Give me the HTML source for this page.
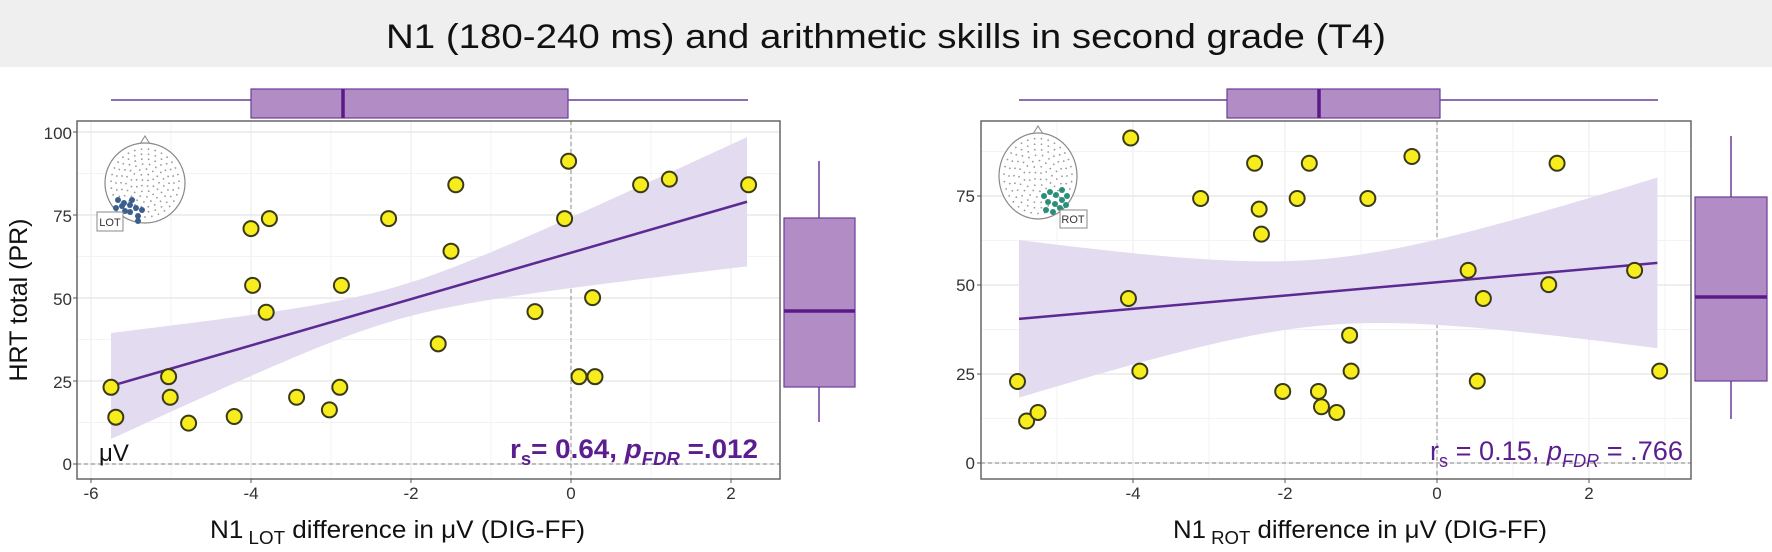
<!DOCTYPE html>
<html><head><meta charset="utf-8">
<style>
html,body{margin:0;padding:0;background:#fff;}
svg{display:block;}
text{font-family:"Liberation Sans",sans-serif;}
</style></head>
<body>
<svg id="s" width="1772" height="552" viewBox="0 0 1772 552" xmlns="http://www.w3.org/2000/svg">
<rect x="0" y="0" width="1772" height="67" fill="#efefef"/>
<text x="886" y="48" font-size="34" text-anchor="middle" textLength="1000" lengthAdjust="spacingAndGlyphs" fill="#111">N1 (180-240 ms) and arithmetic skills in second grade (T4)</text>
<g id="g"></g>
<g font-size="17" fill="#333" text-anchor="end">
<text x="72" y="139">100</text><text x="72" y="222">75</text><text x="72" y="305">50</text><text x="72" y="388">25</text><text x="72" y="470">0</text>
</g>
<g font-size="17" fill="#333" text-anchor="middle">
<text x="91" y="499">-6</text><text x="251" y="499">-4</text><text x="411" y="499">-2</text><text x="571" y="499">0</text><text x="731" y="499">2</text>
</g>
<g font-size="17" fill="#333" text-anchor="end">
<text x="975" y="202">75</text><text x="975" y="291">50</text><text x="975" y="380">25</text><text x="975" y="469">0</text>
</g>
<g font-size="17" fill="#333" text-anchor="middle">
<text x="1133" y="499">-4</text><text x="1285" y="499">-2</text><text x="1437" y="499">0</text><text x="1589" y="499">2</text>
</g>
<text transform="translate(27,300) rotate(-90)" font-size="25" text-anchor="middle" fill="#111">HRT total (PR)</text>
<text x="210" y="538" font-size="25" fill="#111" textLength="375" lengthAdjust="spacingAndGlyphs">N1<tspan font-size="18" dy="6"> LOT</tspan><tspan dy="-6"> difference in μV (DIG-FF)</tspan></text>
<text x="1173" y="538" font-size="25" fill="#111" textLength="374" lengthAdjust="spacingAndGlyphs">N1<tspan font-size="18" dy="6"> ROT</tspan><tspan dy="-6"> difference in μV (DIG-FF)</tspan></text>
<text x="99" y="461" font-size="24" fill="#111">μV</text>
<text x="510" y="458" font-size="27" font-weight="bold" fill="#5c1e8e" textLength="248" lengthAdjust="spacingAndGlyphs">r<tspan font-size="18" dy="7">s</tspan><tspan dy="-7">= 0.64, </tspan><tspan font-style="italic">p</tspan><tspan font-size="18" font-style="italic" dy="7">FDR</tspan><tspan dy="-7"> =.012</tspan></text>
<text x="1430" y="460" font-size="27" fill="#5c1e8e" textLength="253" lengthAdjust="spacingAndGlyphs">r<tspan font-size="18" dy="7">s</tspan><tspan dy="-7"> = 0.15, </tspan><tspan font-style="italic">p</tspan><tspan font-size="18" font-style="italic" dy="7">FDR</tspan><tspan dy="-7"> = .766</tspan></text>
<g font-size="11" fill="#333" text-anchor="middle">
<rect x="97" y="212" width="26" height="19" fill="#fff" stroke="#888"/><text x="110" y="226">LOT</text>
<rect x="1060" y="210" width="27" height="18" fill="#fff" stroke="#888"/><text x="1073" y="223">ROT</text>
</g>
</svg>
<script>
const NS="http://www.w3.org/2000/svg",g=document.getElementById('g');
function el(t,a){const e=document.createElementNS(NS,t);for(const k in a)e.setAttribute(k,a[k]);g.appendChild(e);return e;}
const PUR="#6a3d9a",BOX="#b28cc5",MED="#5a1a8a";
function panel(P){
 const X=v=>P.x0+P.sx*v, Y=v=>P.y0-P.sy*v;
 for(let v=P.xmin;v<=P.xmax;v+=1){const x=X(v);if(x>P.L&&x<P.R)el('line',{x1:x,x2:x,y1:P.T,y2:P.B,stroke:v%2?'#f3f3f3':'#e8e8e8','stroke-width':1});}
 for(let v=0;v<=P.ymax;v+=12.5){const y=Y(v);if(y>P.T)el('line',{x1:P.L,x2:P.R,y1:y,y2:y,stroke:(v%25)?'#f3f3f3':'#e8e8e8','stroke-width':(v%25)?1:1.5});}
 el('line',{x1:X(0),x2:X(0),y1:P.T,y2:P.B,stroke:'#888','stroke-dasharray':'4,3'});
 el('line',{x1:P.L,x2:P.R,y1:Y(0),y2:Y(0),stroke:'#888','stroke-dasharray':'4,3'});
 let up=[],lo=[];
 for(let i=0;i<=60;i++){const x=P.a+(P.b-P.a)*i/60;const m=P.c+P.m*(x-P.a);const w=Math.sqrt(P.A+P.Bq*(x-P.x0b)**2);up.push(X(x)+','+Y(m+w));lo.unshift(X(x)+','+Y(m-w));}
 el('polygon',{points:up.concat(lo).join(' '),fill:'#e3dbef'});
 el('line',{x1:X(P.a),y1:Y(P.c),x2:X(P.b),y2:Y(P.c+P.m*(P.b-P.a)),stroke:'#5b2a92','stroke-width':2.5});
 el('rect',{x:P.L,y:P.T,width:P.R-P.L,height:P.B-P.T,fill:'none',stroke:'#666','stroke-width':1.5});
 for(const v of P.yt)el('line',{x1:P.L-4,x2:P.L,y1:Y(v),y2:Y(v),stroke:'#555'});
 for(const v of P.xt)el('line',{x1:X(v),x2:X(v),y1:P.B,y2:P.B+4,stroke:'#555'});
 const h=P.head;
 el('path',{d:`M${h.x-5},${h.y-h.ry+1} L${h.x},${h.y-h.ry-7} L${h.x+5},${h.y-h.ry+1}`,fill:'#fff',stroke:'#888'});
 el('ellipse',{cx:h.x,cy:h.y,rx:h.rx,ry:h.ry,fill:'#fff',stroke:'#888','stroke-width':1.2});
 for(let r=4;r<h.rx-2;r+=5){const n=Math.max(1,Math.round(r*0.9));for(let k=0;k<n;k++){const t=2*Math.PI*k/n+r;el('circle',{cx:h.x+r*Math.cos(t),cy:h.y+r*Math.sin(t)*h.ry/h.rx,r:0.9,fill:'#999'});}}
 for(const d of h.dots)el('circle',{cx:d[0],cy:d[1],r:3,fill:h.col});
 for(const p of P.pts)el('circle',{cx:X(p[0]),cy:Y(p[1]),r:7.5,fill:'#f7ec1c',stroke:'#3a3a1a','stroke-width':2});
 const t=P.top;
 el('line',{x1:t.w1,x2:t.w2,y1:100,y2:100,stroke:PUR,'stroke-width':1.5});
 el('rect',{x:t.b1,y:89,width:t.b2-t.b1,height:29,fill:BOX,stroke:PUR,'stroke-width':1.2});
 el('line',{x1:t.m,x2:t.m,y1:89,y2:118,stroke:MED,'stroke-width':3.5});
 const s=P.side;
 el('line',{x1:s.cx,x2:s.cx,y1:s.w1,y2:s.w2,stroke:PUR,'stroke-width':1.5});
 el('rect',{x:s.x1,y:s.b1,width:s.x2-s.x1,height:s.b2-s.b1,fill:BOX,stroke:PUR,'stroke-width':1.2});
 el('line',{x1:s.x1,x2:s.x2,y1:s.m,y2:s.m,stroke:MED,'stroke-width':3.5});
}
panel({x0:571,sx:80,y0:464,sy:3.32,L:77,R:780,T:121,B:479,xmin:-6,xmax:2,ymax:100,
 yt:[0,25,50,75,100],xt:[-6,-4,-2,0,2],a:-5.75,b:2.2,c:23.5,m:6.98,A:25,Bq:18.3,x0b:-2.2,
 head:{x:145,y:183,rx:40,ry:40,col:'#3a5f8f',dots:[[118,200],[116,208],[124,203],[130,205],[136,208],[130,212],[138,216],[125,211],[132,200],[142,210],[138,221],[122,206]]},
 pts:[[-5.75,23.1],[-5.69,14.1],[-5.03,26.3],[-5.01,20.1],[-4.78,12.3],[-4.21,14.3],[-4.0,70.9],[-3.98,53.8],[-3.81,45.7],[-3.77,73.9],[-3.43,20.1],[-3.02,16.3],[-2.89,23.1],[-2.87,53.8],[-2.28,73.9],[-1.66,36.2],[-1.5,64.1],[-1.44,84.1],[-0.45,45.9],[-0.08,73.9],[-0.03,91.2],[0.1,26.3],[0.27,50.1],[0.3,26.3],[0.87,84.1],[1.23,85.8],[2.22,84.1]],
 top:{w1:111,w2:748,b1:251,b2:568,m:343},
 side:{cx:819,w1:161,w2:422,x1:784,x2:855,b1:218,b2:387,m:311}});
panel({x0:1437,sx:76,y0:463,sy:3.56,L:981,R:1691,T:121,B:479,xmin:-5,xmax:3,ymax:100,
 yt:[0,25,50,75],xt:[-4,-2,0,2],a:-5.5,b:2.9,c:40.5,m:1.87,A:87,Bq:25.2,x0b:-1.5,
 head:{x:1038,y:176,rx:39,ry:43,col:'#2a8f7a',dots:[[1044,196],[1050,192],[1056,195],[1062,190],[1048,202],[1055,204],[1062,200],[1067,196],[1046,210],[1053,212],[1060,208],[1066,205]]},
 pts:[[-5.52,22.9],[-5.4,11.8],[-5.25,14.2],[-4.03,91.3],[-4.06,46.2],[-3.91,25.8],[-3.11,74.3],[-2.4,84.2],[-2.34,71.3],[-2.31,64.3],[-2.03,20.1],[-1.84,74.3],[-1.68,84.2],[-1.56,20.1],[-1.52,15.8],[-1.32,14.2],[-1.15,35.9],[-1.13,25.8],[-0.91,74.3],[-0.33,86.1],[0.41,54.1],[0.53,23.0],[0.61,46.2],[1.47,50.1],[1.58,84.2],[2.6,54.1],[2.93,25.8]],
 top:{w1:1019,w2:1658,b1:1227,b2:1440,m:1319},
 side:{cx:1731,w1:136,w2:419,x1:1695,x2:1767,b1:197,b2:381,m:297}});
</script>
</body></html>
